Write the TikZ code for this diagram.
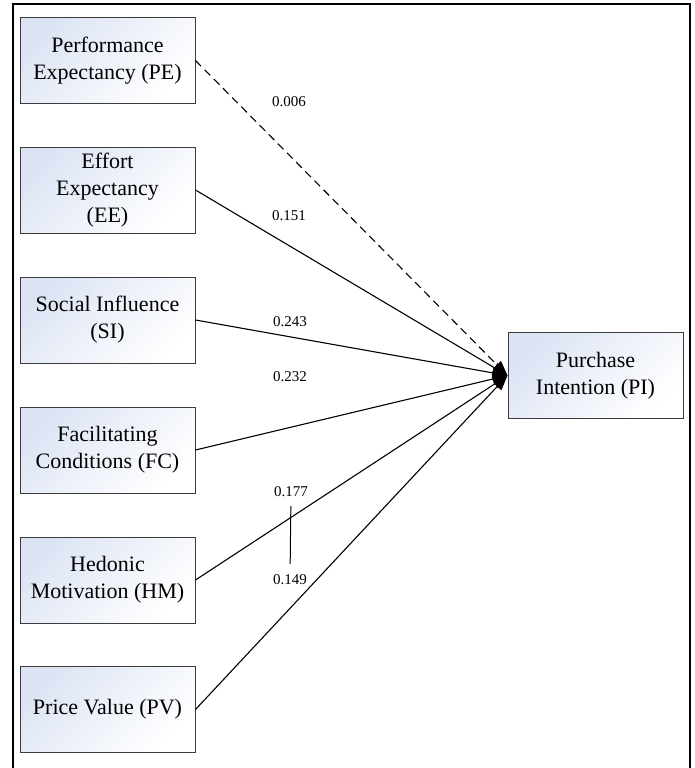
\documentclass[tikz,border=0pt]{standalone}
\usepackage{fontspec}
\setmainfont{Liberation Serif}
\usetikzlibrary{arrows.meta,positioning}
\definecolor{boxtint}{RGB}{220,228,244}
\definecolor{boxline}{RGB}{60,60,60}

\begin{document}
\begin{tikzpicture}[x=1pt,y=-1pt,
  con/.style={draw=boxline,line width=1pt,align=center,minimum width=175pt,minimum height=86pt,inner sep=2pt,top color=boxtint,bottom color=white,shading angle=45,font=\fontsize{22}{27}\selectfont},
  num/.style={font=\fontsize{15}{18}\selectfont,inner sep=1pt},
  lnk/.style={line width=1.1pt,-{Triangle[length=15pt,width=11pt]}}]
            \useasboundingbox (0,0) rectangle (695,768);
            \draw[line width=1.2pt] (13,768) -- (13,4) -- (690,4) -- (690,768);

            \node[con] (PE) at (107.5,60.5) {Performance\\Expectancy (PE)};
            \node[con] (EE) at (107.5,190) {Effort\\Expectancy\\(EE)};
            \node[con] (SI) at (107.5,320) {Social Influence\\(SI)};
            \node[con] (FC) at (107.5,450) {Facilitating\\Conditions (FC)};
            \node[con] (HM) at (107.5,580) {Hedonic\\Motivation (HM)};
            \node[con] (PV) at (107.5,709.5) {Price Value (PV)};
            \node[con] (PI) at (595.5,375.5) {Purchase\\Intention (PI)};

            \node[num] (l006) at (289,102) {0.006};
            \node[num] (l151) at (289,216) {0.151};
            \node[num] (l243) at (290,322) {0.243};
            \node[num] (l232) at (290,377) {0.232};
            \node[num] (l177) at (291,492) {0.177};
            \node[num] (l149) at (290,580) {0.149};

            \draw[lnk,dash pattern=on 8pt off 5pt] (PE.east) -- (PI.west);
            \draw[lnk] (EE.east) -- (PI.west);
            \draw[lnk] (SI.east) -- (PI.west);
            \draw[lnk] (FC.east) -- (PI.west);
            \draw[lnk] (HM.east) -- (PI.west);
            \draw[lnk] (PV.east) -- (PI.west);
            \draw[line width=1pt,shorten <=14pt,shorten >=16pt] (l177.center) -- (l149.center);
\end{tikzpicture}
\end{document}
